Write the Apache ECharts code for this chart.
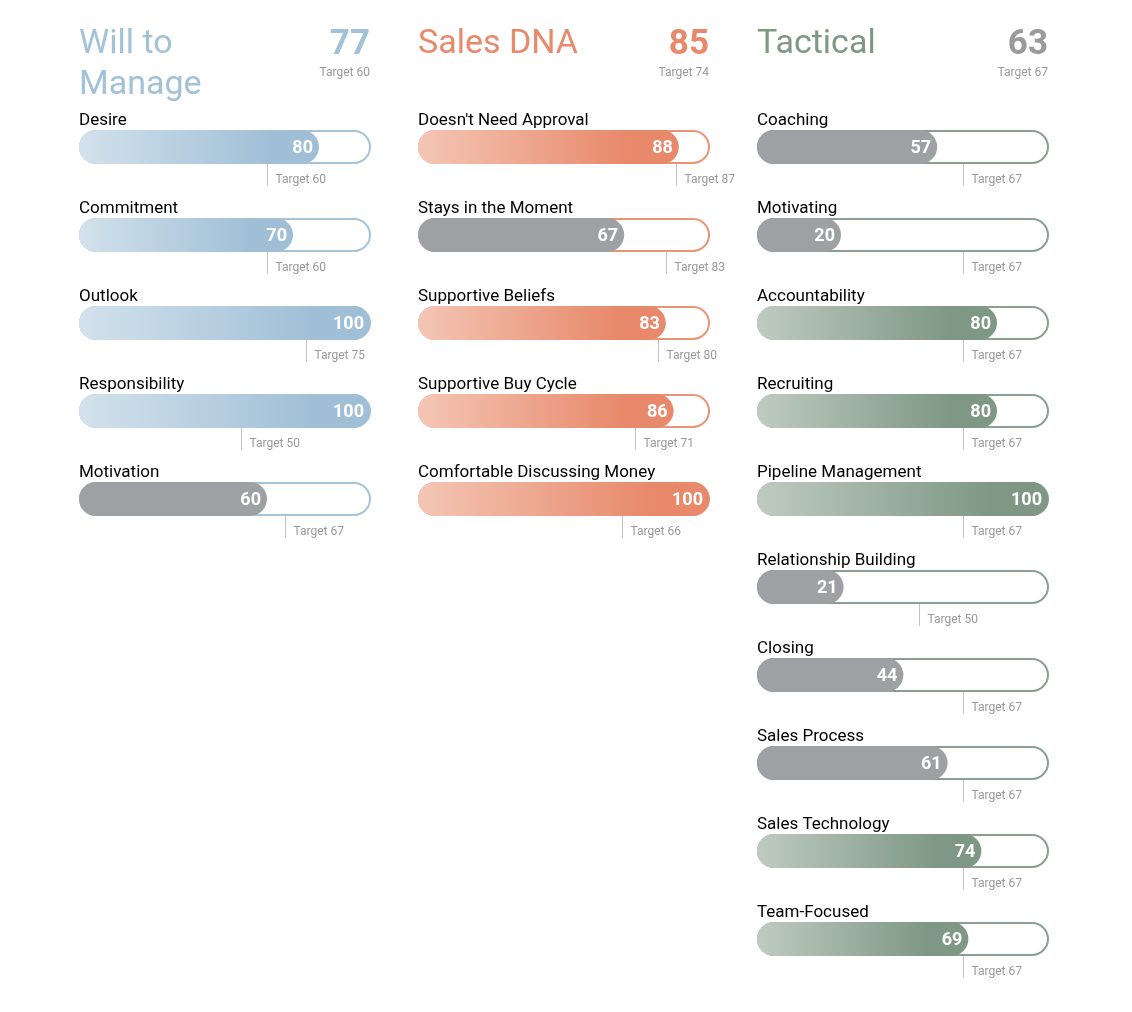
<!DOCTYPE html>
<html>
<head>
<meta charset="utf-8">
<script src="https://cdn.jsdelivr.net/npm/echarts@6/dist/echarts.min.js"></script>
<style>
  html, body { margin: 0; padding: 0; background: #fff; }
  #main { width: 1132px; height: 1012px; }
</style>
</head>
<body>
<div id="main"></div>
<script>
// group headers
var groupNames = ['Will to\nManage', 'Sales DNA', 'Tactical'];
var groupScores = [77, 85, 63];
var groupTargets = [60, 74, 67];

// Will to Manage
var willNames = ['Desire', 'Commitment', 'Outlook', 'Responsibility', 'Motivation'];
var willValues = [80, 70, 100, 100, 60];
var willTargets = [60, 60, 75, 50, 67];

// Sales DNA
var dnaNames = ["Doesn't Need Approval", 'Stays in the Moment', 'Supportive Beliefs', 'Supportive Buy Cycle', 'Comfortable Discussing Money'];
var dnaValues = [88, 67, 83, 86, 100];
var dnaTargets = [87, 83, 80, 71, 66];

// Tactical
var tacNames = ['Coaching', 'Motivating', 'Accountability', 'Recruiting', 'Pipeline Management',
  'Relationship Building', 'Closing', 'Sales Process', 'Sales Technology', 'Team-Focused'];
var tacValues = [57, 20, 80, 80, 100, 21, 44, 61, 74, 69];
var tacTargets = [67, 67, 67, 67, 67, 50, 67, 67, 67, 67];

var allNames = [willNames, dnaNames, tacNames];
var allValues = [willValues, dnaValues, tacValues];
var allTargets = [willTargets, dnaTargets, tacTargets];

// styles
var palettes = [
  { title: '#a3c1d7', line: '#a6c3d8', light: '#d3e2ec', dark: '#a0bfd6' },
  { title: '#e8896b', line: '#ea9477', light: '#f4c6b5', dark: '#e8896b' },
  { title: '#7f9884', line: '#8a9f8e', light: '#bfcbc1', dark: '#7f9885' }
];
var GRAY = '#9ea1a4';
var FONT = 'Roboto, "Noto Sans", sans-serif';
var colLeft = [111, 450, 789];
var colWidth = 260;
var rowH = 88;
var barH = 34;

var chart = echarts.init(document.getElementById('main'));

function makeRender(c) {
  var pal = palettes[c];
  return function (params, api) {
    var v = api.value(0), idx = api.value(1), t = api.value(2);
    var p0 = api.coord([0, idx]);
    var pv = api.coord([v, idx]);
    var p100 = api.coord([100, idx]);
    var pt = api.coord([t, idx]);
    var cy = p0[1];
    var x0 = p0[0] - 32;
    var xEnd = Math.min(pv[0], p100[0] - 1);
    var met = v >= t;
    var fill = met ? new echarts.graphic.LinearGradient(0, 0, 1, 0, [
      { offset: 0, color: pal.light },
      { offset: 0.8, color: pal.dark },
      { offset: 1, color: pal.dark }
    ]) : GRAY;
    var tx = Math.round(pt[0]) + 0.5;
    return {
      type: 'group',
      children: [
        {
          type: 'text',
          style: { text: allNames[c][params.dataIndex], x: x0, y: cy - 26,
            align: 'left', textAlign: 'left', verticalAlign: 'middle', textVerticalAlign: 'middle',
            font: '17px ' + FONT, fill: '#000' }
        },
        {
          type: 'rect',
          shape: { x: x0 + 1, y: cy - barH / 2 + 1, width: p100[0] - x0 - 2, height: barH - 2, r: barH / 2 - 1 },
          style: { fill: '#fff', stroke: pal.line, lineWidth: 2 }
        },
        {
          type: 'rect',
          shape: { x: x0, y: cy - barH / 2, width: xEnd - x0, height: barH, r: barH / 2 },
          style: { fill: fill }
        },
        {
          type: 'text',
          style: { text: String(v), x: xEnd - 6, y: cy + 1,
            align: 'right', textAlign: 'right', verticalAlign: 'middle', textVerticalAlign: 'middle',
            font: 'bold 18px ' + FONT, fill: '#fff' }
        },
        {
          type: 'line',
          shape: { x1: tx, y1: cy + barH / 2, x2: tx, y2: cy + barH / 2 + 22 },
          style: { stroke: '#c2c2c2', lineWidth: 1 }
        },
        {
          type: 'text',
          style: { text: 'Target ' + t, x: tx + 8, y: cy + 33,
            align: 'left', textAlign: 'left', verticalAlign: 'middle', textVerticalAlign: 'middle',
            font: '12px ' + FONT, fill: '#999' }
        }
      ]
    };
  };
}

var grids = [], xAxes = [], yAxes = [], series = [], graphics = [];
for (var c = 0; c < 3; c++) {
  var n = allNames[c].length;
  grids.push({ left: colLeft[c], width: colWidth, top: 103, height: n * rowH });
  xAxes.push({ gridIndex: c, type: 'value', min: 0, max: 100, show: false });
  yAxes.push({ gridIndex: c, type: 'category', data: allNames[c], inverse: true, show: false });
  var data = [];
  for (var i = 0; i < n; i++) data.push([allValues[c][i], i, allTargets[c][i]]);
  series.push({
    type: 'custom',
    xAxisIndex: c,
    yAxisIndex: c,
    renderItem: makeRender(c),
    encode: { x: 0, y: 1 },
    data: data,
    silent: true
  });

  var left = colLeft[c] - 32;
  var right = colLeft[c] + colWidth - 1;
  graphics.push({
    type: 'text', x: left, y: 24,
    style: { text: groupNames[c], font: '34px ' + FONT, lineHeight: 41, fill: palettes[c].title,
      align: 'left', textAlign: 'left', verticalAlign: 'top', textVerticalAlign: 'top' }
  });
  graphics.push({
    type: 'text', x: right, y: 45,
    style: { text: String(groupScores[c]), font: 'bold 35px ' + FONT,
      fill: groupScores[c] >= groupTargets[c] ? palettes[c].title : '#9a9a9a',
      align: 'right', textAlign: 'right', verticalAlign: 'middle', textVerticalAlign: 'middle' }
  });
  graphics.push({
    type: 'text', x: right, y: 73,
    style: { text: 'Target ' + groupTargets[c], font: '12px ' + FONT, fill: '#999',
      align: 'right', textAlign: 'right', verticalAlign: 'middle', textVerticalAlign: 'middle' }
  });
}

chart.setOption({
  animation: false,
  grid: grids,
  xAxis: xAxes,
  yAxis: yAxes,
  series: series,
  graphic: graphics
});
</script>
</body>
</html>
